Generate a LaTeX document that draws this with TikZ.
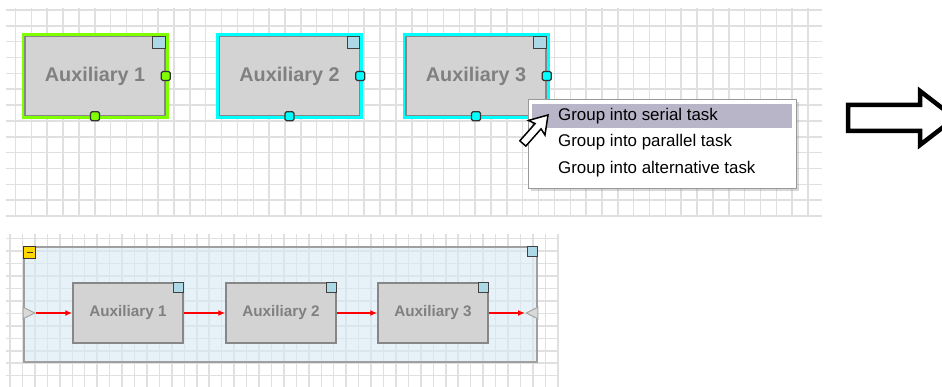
\documentclass[tikz,border=0pt]{standalone}
\usepackage{fontspec}
\setmainfont{Liberation Sans}
\usetikzlibrary{positioning, shapes.geometric, shadows, arrows.meta}

\definecolor{raster}{RGB}{224,224,224}
\definecolor{kasten}{RGB}{211,211,211}
\definecolor{kastenrand}{RGB}{135,135,135}
\definecolor{schrift}{RGB}{128,128,128}
\definecolor{ecke}{RGB}{173,216,230}
\definecolor{gruen}{RGB}{128,255,0}
\definecolor{tuerkis}{RGB}{0,255,255}
\definecolor{gruppe}{RGB}{214,234,244}
\definecolor{markiert}{RGB}{184,181,201}
\definecolor{minusgelb}{RGB}{255,215,0}

\begin{document}
\begin{tikzpicture}[x=1pt, y=-1pt,
			>={Latex[length=7pt,width=6pt]},   %Voreinstellung für Pfeilspitzen
			aux/.style={draw=kastenrand, fill=kasten, line width=1.5pt, text=schrift},
			auxgross/.style={aux, minimum width=140pt, minimum height=79pt, font=\fontsize{19.8}{22}\bfseries\selectfont},
			auxklein/.style={aux, minimum width=110pt, minimum height=60pt, font=\fontsize{15.3}{18}\bfseries\selectfont},
			gewaehlt/.style={preaction={draw=#1, line width=7pt}},
			port/.style={draw=black!80, fill=#1, rounded corners=1.5pt, line width=1.2pt, minimum size=9pt, inner sep=0pt},
			eckkasten/.style={draw=black!75, fill=ecke, line width=1.2pt, minimum size=#1, inner sep=0pt, anchor=north east},
			pin/.style={isosceles triangle, isosceles triangle stretches, draw=gray!70, fill=gray!30, line width=1pt, minimum size=11.6pt, inner sep=0pt, anchor=apex},
			fluss/.style={->, red, line width=2pt},
			eintrag/.style={anchor=west, inner sep=0pt, font=\fontsize{16.9}{19}\selectfont}]
			\useasboundingbox (0,0) rectangle (942,387);
			\clip (0,0) rectangle (942,387);
			%Raster oben
			\foreach \i in {0,...,13} \draw[raster, line width=1.5pt] (6,{10+15.85*\i}) -- (822,{10+15.85*\i});
			\foreach \i in {0,...,50} \draw[raster, line width=1.5pt] ({15.5+15.85*\i},8) -- ({15.5+15.85*\i},216);
			%Raster unten
			\foreach \i in {0,...,11} \draw[raster, line width=1.5pt] (6,{238.7+12.45*\i}) -- (558,{238.7+12.45*\i});
			\foreach \i in {0,...,44} \draw[raster, line width=1.5pt] ({10+12.45*\i},234) -- ({10+12.45*\i},387);
			% Bausteine, ausgewaehlt
			\node[auxgross, gewaehlt=gruen] (a1) at (95,76) {Auxiliary 1};
			\node[auxgross, gewaehlt=tuerkis] (a2) at (289.5,76) {Auxiliary 2};
			\node[auxgross, gewaehlt=tuerkis] (a3) at (476,76) {Auxiliary 3};
			\node[eckkasten=12.5pt] (a1e) at (a1.north east) {};
			\node[eckkasten=12.5pt] (a2e) at (a2.north east) {};
			\node[eckkasten=12.5pt] (a3e) at (a3.north east) {};
			\node[port=gruen] (a1r) at (a1.east) {};
			\node[port=gruen] (a1s) at (a1.south) {};
			\node[port=tuerkis] (a2r) at (a2.east) {};
			\node[port=tuerkis] (a2s) at (a2.south) {};
			\node[port=tuerkis] (a3r) at (a3.east) {};
			\node[port=tuerkis] (a3s) at (a3.south) {};
			% Kontextmenue
			\node[draw=gray!80, fill=white, minimum width=268pt, minimum height=89pt,
				drop shadow={shadow xshift=3pt, shadow yshift=-3pt, opacity=0.3}] (menu) at (662,143.5) {};
			\node[fill=markiert, minimum width=260pt, minimum height=24pt, inner sep=0pt] (hell) at (662,116) {};
			\node[eintrag] (m1) at (558,116) {Group into serial task};
			\node[eintrag] (m2) at (558,142) {Group into parallel task};
			\node[eintrag] (m3) at (558,169) {Group into alternative task};
			% Mauszeiger
			\begin{scope}[shift={(548,115)}, rotate=-41.5]
				\draw[fill=white, line width=1.5pt, line join=miter]
					(0,0) -- (11,17) -- (4,15) -- (4,38) -- (-4,38) -- (-4,15) -- (-11,17) -- cycle;
			\end{scope}
			% Blockpfeil
			\draw[line width=4.5pt, line join=miter]
				(848,105) -- (920,105) -- (920,91) -- (955,118) -- (920,145) -- (920,131) -- (848,131) -- cycle;
			% Gruppe mit seriellem Ablauf
			\node[draw=gray!75, line width=1.5pt, fill=gruppe, fill opacity=0.6,
				minimum width=513pt, minimum height=115pt] (grp) at (280.5,304.5) {};
			\node[draw=black!80, fill=minusgelb, line width=1pt, minimum size=12pt, inner sep=0pt, anchor=north west,
				path picture={\draw[line width=1.3pt] ([xshift=3pt]path picture bounding box.west) -- ([xshift=-3pt]path picture bounding box.east);}]
				(zu) at (grp.north west) {};
			\node[eckkasten=10pt] (ge) at (grp.north east) {};
			\node[auxklein] (b1) at (128,313) {Auxiliary 1};
			\node[auxklein] (b2) at (281,313) {Auxiliary 2};
			\node[auxklein] (b3) at (433,313) {Auxiliary 3};
			\node[eckkasten=10pt] (b1e) at (b1.north east) {};
			\node[eckkasten=10pt] (b2e) at (b2.north east) {};
			\node[eckkasten=10pt] (b3e) at (b3.north east) {};
			\node[pin] (ein) at (36,313) {};
			\node[pin, shape border rotate=180] (aus) at (525,313) {};
			%Verbindungen
			\draw[fluss] (ein.apex) -- (b1);
			\draw[fluss] (b1) -- (b2);
			\draw[fluss] (b2) -- (b3);
			\draw[fluss] (b3) -- (aus.apex);
		\end{tikzpicture}
\end{document}
